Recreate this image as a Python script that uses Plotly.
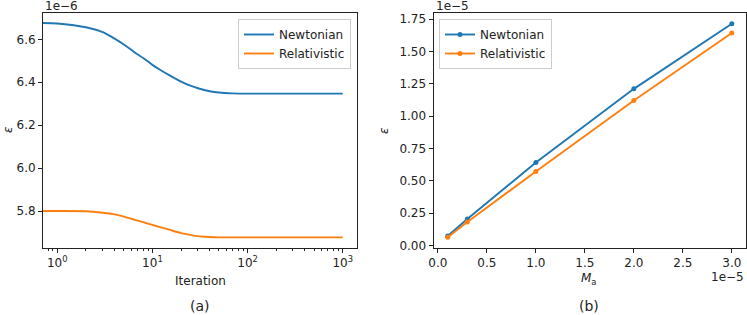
import plotly.graph_objects as go

# ---------------- data ----------------
# panel (a): error vs iteration (units of 1e-6); iteration 0 is drawn off-axis like matplotlib's log clip
iterations = [0, 1, 2, 3, 4, 5, 6, 7, 8, 10, 12, 15, 20, 25, 30, 40, 50, 70, 100, 1000]
newtonian_iter = [6.674, 6.674, 6.656, 6.633, 6.603, 6.576, 6.551, 6.529, 6.513, 6.481,
                  6.458, 6.433, 6.403, 6.384, 6.372, 6.358, 6.352, 6.348, 6.347, 6.347]
relativistic_iter = [5.800, 5.800, 5.799, 5.792, 5.784, 5.774, 5.764, 5.755, 5.748, 5.735,
                     5.725, 5.713, 5.697, 5.689, 5.683, 5.679, 5.677, 5.677, 5.677, 5.677]

# panel (b): error vs mass (units of 1e-5)
mass = [0.1, 0.3, 1.0, 2.0, 3.0]
newtonian_mass = [0.072, 0.204, 0.641, 1.210, 1.714]
relativistic_mass = [0.062, 0.181, 0.571, 1.120, 1.642]

left_xticks = [1, 10, 100, 1000]
left_xticktext = ["10<sup>0</sup>", "10<sup>1</sup>", "10<sup>2</sup>", "10<sup>3</sup>"]
left_yticks = [5.8, 6.0, 6.2, 6.4, 6.6]
right_xticks = [0.0, 0.5, 1.0, 1.5, 2.0, 2.5, 3.0]
right_yticks = [0.0, 0.25, 0.5, 0.75, 1.0, 1.25, 1.5, 1.75]

BLUE = "#1f77b4"
ORANGE = "#ff7f0e"
FONT = "DejaVu Sans"
INK = "#222222"
W, H = 747, 315

def px_x(p):
    return p / W

def px_y(p):
    return 1 - p / H

plot_iter = [i if i > 0 else 1e-3 for i in iterations]

fig = go.Figure()
fig.add_trace(go.Scatter(x=plot_iter, y=newtonian_iter, mode="lines", name="Newtonian",
                         line=dict(color=BLUE, width=1.9, shape="spline", smoothing=0.6),
                         xaxis="x", yaxis="y", legend="legend"))
fig.add_trace(go.Scatter(x=plot_iter, y=relativistic_iter, mode="lines", name="Relativistic",
                         line=dict(color=ORANGE, width=1.9, shape="spline", smoothing=0.6),
                         xaxis="x", yaxis="y", legend="legend"))
fig.add_trace(go.Scatter(x=mass, y=newtonian_mass, mode="lines+markers", name="Newtonian",
                         line=dict(color=BLUE, width=1.9), marker=dict(size=5, color=BLUE),
                         xaxis="x2", yaxis="y2", legend="legend2"))
fig.add_trace(go.Scatter(x=mass, y=relativistic_mass, mode="lines+markers", name="Relativistic",
                         line=dict(color=ORANGE, width=1.9), marker=dict(size=5, color=ORANGE),
                         xaxis="x2", yaxis="y2", legend="legend2"))

axis_common = dict(showline=True, linecolor=INK, linewidth=1, mirror=True, showgrid=False,
                   zeroline=False, ticks="outside", ticklen=4, tickwidth=1, tickcolor=INK,
                   tickfont=dict(family=FONT, size=12, color=INK), automargin=False)

minor_vals = [0.8, 0.9] + [m * d for d in (1, 10, 100) for m in range(2, 10)]

ydom = [px_y(248), px_y(13)]
fig.update_layout(
    width=W, height=H,
    margin=dict(l=0, r=0, t=0, b=0),
    paper_bgcolor="white", plot_bgcolor="white",
    font=dict(family=FONT, size=12, color=INK),
    xaxis=dict(domain=[px_x(43), px_x(357)], type="log", range=[-0.15, 3.15],
               tickmode="array", tickvals=left_xticks, ticktext=left_xticktext,
               minor=dict(tickmode="array", tickvals=minor_vals, ticks="outside", ticklen=2.4,
                          tickwidth=0.8, tickcolor=INK),
               anchor="y", **axis_common),
    yaxis=dict(domain=ydom, range=[5.6276, 6.7226], tickmode="array", tickvals=left_yticks,
               tickformat=".1f", anchor="x", **axis_common),
    xaxis2=dict(domain=[px_x(433.5), px_x(746)], range=[-0.045, 3.145], tickmode="array",
                tickvals=right_xticks, tickformat=".1f", anchor="y2", **axis_common),
    yaxis2=dict(domain=ydom, range=[-0.0206, 1.7966], tickmode="array", tickvals=right_yticks,
                tickformat=".2f", anchor="x2", **axis_common),
    legend=dict(x=px_x(351), y=px_y(19), xanchor="right", yanchor="top",
                bgcolor="rgba(255,255,255,0.8)", bordercolor="#cccccc", borderwidth=1,
                font=dict(family=FONT, size=12, color=INK), itemwidth=30,
                tracegroupgap=0),
    legend2=dict(x=px_x(439), y=px_y(19), xanchor="left", yanchor="top",
                 bgcolor="rgba(255,255,255,0.8)", bordercolor="#cccccc", borderwidth=1,
                 font=dict(family=FONT, size=12, color=INK), itemwidth=30,
                 tracegroupgap=0),
    showlegend=True,
)

def ann(text, x, y, xanchor="center", yanchor="middle", size=12, angle=0):
    fig.add_annotation(text=text, x=px_x(x), y=px_y(y), xref="paper", yref="paper",
                       xanchor=xanchor, yanchor=yanchor, showarrow=False, textangle=angle,
                       font=dict(family=FONT, size=size, color=INK))

ann("1e−6", 43, 6, xanchor="left")
ann("1e−5", 434, 6, xanchor="left")
ann("1e−5", 746, 277, xanchor="right")
ann("<i>ε</i>", 8, 130, angle=-90)
ann("<i>ε</i>", 384, 130, angle=-90)
ann("Iteration", 200, 281)
ann("<i>M</i><sub>a</sub>", 589, 279)
ann("(a)", 200, 306, size=14)
ann("(b)", 589, 306, size=14)

fig.write_html("out.html", config={"displayModeBar": False},
               post_script="document.body.style.margin='0';document.body.style.overflow='hidden';")
